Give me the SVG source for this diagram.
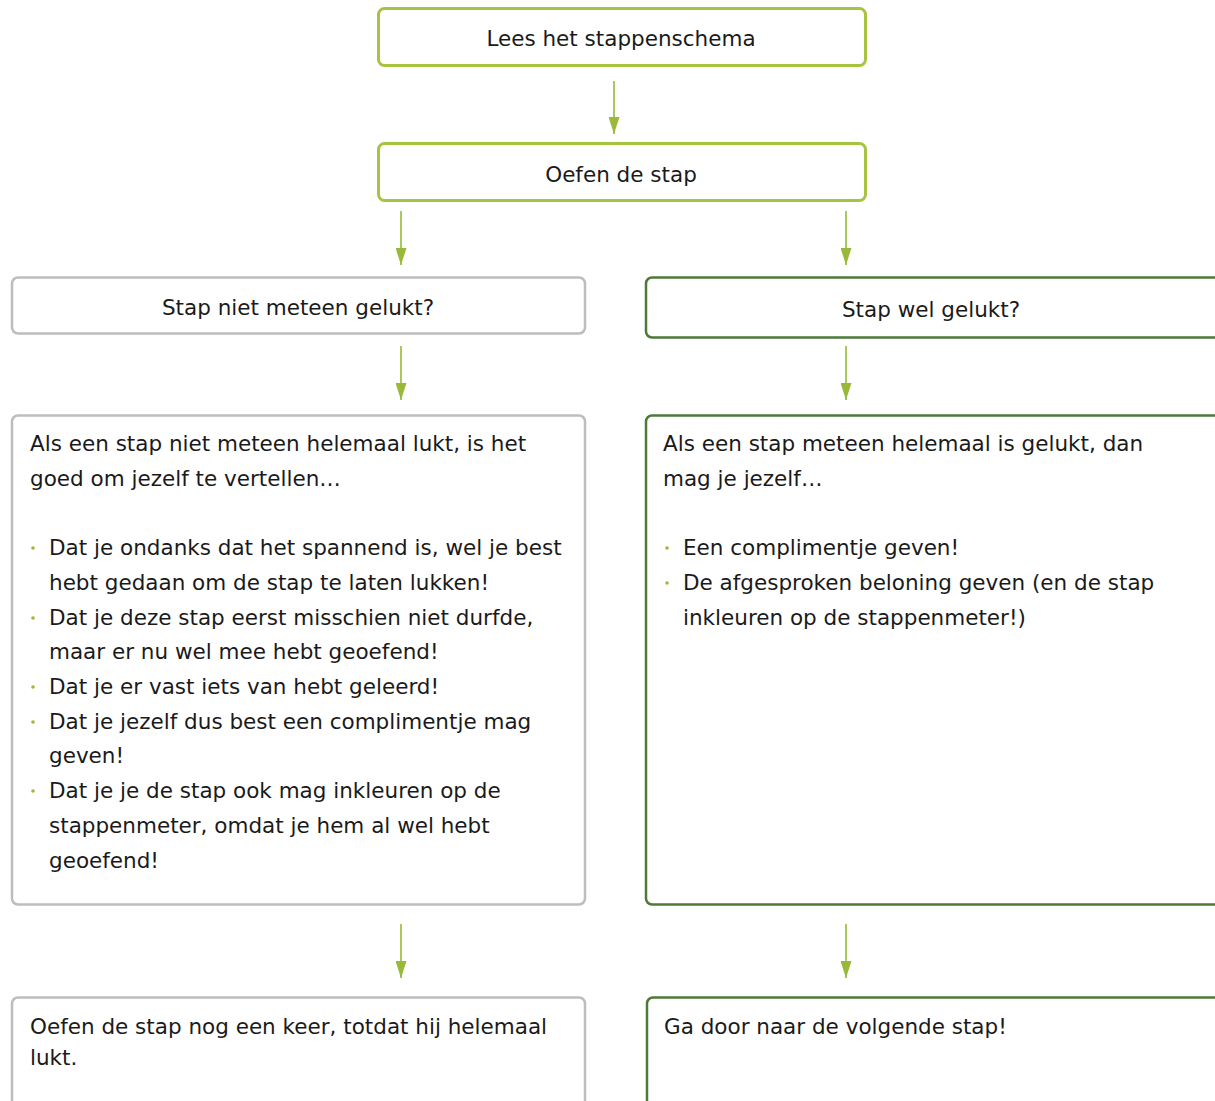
<svg xmlns="http://www.w3.org/2000/svg" width="1215" height="1101" viewBox="0 0 1215 1101">
<defs>
<style>
text{font-family:"DejaVu Sans","Liberation Sans",sans-serif;font-size:21.5px;fill:#1a1a1a}
.c{text-anchor:middle}
.lime{fill:#fff;stroke:#a6c43f;stroke-width:3}
.gray{fill:#fff;stroke:#bdbdbd;stroke-width:2.5}
.dark{fill:#fff;stroke:#4e7a38;stroke-width:2.5}
.conn line{stroke:#a9c95a;stroke-width:2}
.dot{fill:#9ab83a}
</style>
<marker id="arr" markerUnits="userSpaceOnUse" markerWidth="17" markerHeight="11" refX="17" refY="5.5" orient="auto" viewBox="0 0 17 11">
<path d="M0,0 L17,5.5 L0,11 Z" fill="#9ab83a"/>
</marker>
</defs>
<g id="n1"><rect class="lime" x="378.5" y="8.5" width="487" height="57" rx="6"/><text class="c" x="621" y="46">Lees het stappenschema</text></g>
<g id="n2"><rect class="lime" x="378.5" y="143.5" width="487" height="57" rx="6"/><text class="c" x="621" y="182">Oefen de stap</text></g>
<g id="n3"><rect class="gray" x="12" y="277.5" width="573" height="56" rx="6"/><text class="c" x="298" y="315">Stap niet meteen gelukt?</text></g>
<g id="n4"><rect class="dark" x="646" y="277.5" width="575" height="60" rx="6"/><text class="c" x="931" y="317">Stap wel gelukt?</text></g>
<g id="n5"><rect class="gray" x="12" y="415.5" width="573" height="489" rx="6"/>
<text x="30" y="451">Als een stap niet meteen helemaal lukt, is het</text>
<text x="30" y="486">goed om jezelf te vertellen…</text>
<circle class="dot" cx="33" cy="548" r="1.8"/><text x="49" y="555">Dat je ondanks dat het spannend is, wel je best</text>
<text x="49" y="590">hebt gedaan om de stap te laten lukken!</text>
<circle class="dot" cx="33" cy="618" r="1.8"/><text x="49" y="625">Dat je deze stap eerst misschien niet durfde,</text>
<text x="49" y="659">maar er nu wel mee hebt geoefend!</text>
<circle class="dot" cx="33" cy="687" r="1.8"/><text x="49" y="694">Dat je er vast iets van hebt geleerd!</text>
<circle class="dot" cx="33" cy="722" r="1.8"/><text x="49" y="729">Dat je jezelf dus best een complimentje mag</text>
<text x="49" y="763">geven!</text>
<circle class="dot" cx="33" cy="791" r="1.8"/><text x="49" y="798">Dat je je de stap ook mag inkleuren op de</text>
<text x="49" y="833">stappenmeter, omdat je hem al wel hebt</text>
<text x="49" y="868">geoefend!</text>
</g>
<g id="n6"><rect class="dark" x="646" y="415.5" width="575" height="489" rx="6"/>
<text x="663" y="451">Als een stap meteen helemaal is gelukt, dan</text>
<text x="663" y="486">mag je jezelf…</text>
<circle class="dot" cx="667" cy="548" r="1.8"/><text x="683" y="555">Een complimentje geven!</text>
<circle class="dot" cx="667" cy="583" r="1.8"/><text x="683" y="590">De afgesproken beloning geven (en de stap</text>
<text x="683" y="625">inkleuren op de stappenmeter!)</text>
</g>
<g id="n7"><rect class="gray" x="12" y="997.5" width="573" height="120" rx="6"/>
<text x="30" y="1034">Oefen de stap nog een keer, totdat hij helemaal</text>
<text x="30" y="1065">lukt.</text></g>
<g id="n8"><rect class="dark" x="647" y="997.5" width="575" height="120" rx="6"/>
<text x="664" y="1034">Ga door naar de volgende stap!</text></g>
<g id="connectors" class="conn">
<line x1="614" y1="81" x2="614" y2="134" marker-end="url(#arr)"/>
<line x1="401" y1="211" x2="401" y2="265" marker-end="url(#arr)"/>
<line x1="846" y1="211" x2="846" y2="265" marker-end="url(#arr)"/>
<line x1="401" y1="346" x2="401" y2="400" marker-end="url(#arr)"/>
<line x1="846" y1="346" x2="846" y2="400" marker-end="url(#arr)"/>
<line x1="401" y1="924" x2="401" y2="978" marker-end="url(#arr)"/>
<line x1="846" y1="924" x2="846" y2="978" marker-end="url(#arr)"/>
</g>
</svg>
